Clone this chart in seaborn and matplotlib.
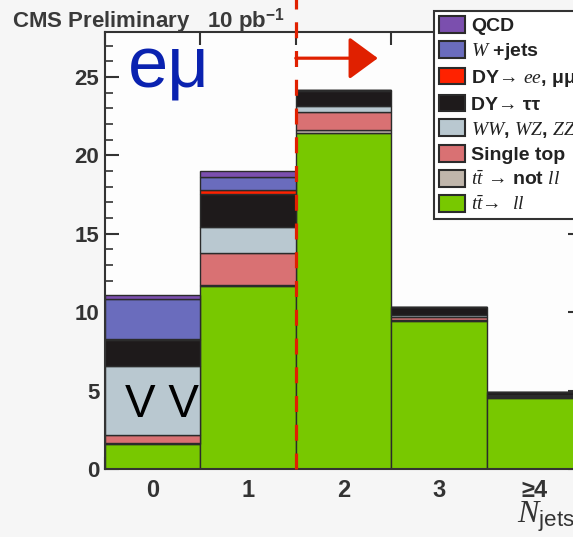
import numpy as np
import pandas as pd
import matplotlib
matplotlib.use("Agg")
import matplotlib.pyplot as plt
from matplotlib.patches import Patch
from matplotlib.ticker import MultipleLocator, FixedLocator
import seaborn as sns

# Jet-multiplicity bins and expected event yields per process (e-mu channel)
jet_bins = [0, 1, 2, 3, 4]
jet_labels = ["0", "1", "2", "3", "≥4"]

processes = ["QCD", "W+jets", "DY->ee,mumu", "DY->tautau", "VV",
             "Single top", "ttbar->not ll", "ttbar->ll"]
legend_labels = ["QCD", r"$W$ +jets", r"DY→ $ee$, μμ", r"DY→ ττ",
                 r"$WW$, $WZ$, $ZZ$", "Single top",
                 r"$t\bar{t}$ → not $ll$", r"$t\bar{t}$→  $ll$"]

qcd = [0.20, 0.35, 0.02, 0.01, 0.005]
wjets = [2.55, 0.85, 0.02, 0.02, 0.01]
dy_eemm = [0.12, 0.25, 0.02, 0.02, 0.01]
dy_tautau = [1.60, 2.10, 0.95, 0.50, 0.20]
diboson = [4.45, 1.70, 0.42, 0.10, 0.03]
single_top = [0.50, 2.00, 1.15, 0.20, 0.10]
tt_not_ll = [0.05, 0.05, 0.20, 0.05, 0.03]
tt_ll = [1.60, 11.70, 21.40, 9.45, 4.55]

yields = [qcd, wjets, dy_eemm, dy_tautau, diboson, single_top, tt_not_ll, tt_ll]

colors = ["#7b4fae", "#6a6cbd", "#ff2200", "#1e1a1b", "#b9c8d0",
          "#d97173", "#c0b6ab", "#78c800"]
palette = dict(zip(processes, colors))

df = pd.DataFrame({
    "jets": np.tile(jet_bins, len(processes)),
    "process": np.repeat(processes, len(jet_bins)),
    "events": np.concatenate(yields),
})

sns.set_style("ticks")
plt.rcParams["font.family"] = ["Liberation Sans", "DejaVu Sans"]
plt.rcParams["mathtext.fontset"] = "custom"
plt.rcParams["mathtext.rm"] = "Liberation Sans"
plt.rcParams["mathtext.it"] = "Liberation Serif:italic"
plt.rcParams["mathtext.bf"] = "Liberation Sans:bold"

ink = "#333333"
fig = plt.figure(figsize=(5.73, 5.37), dpi=100, facecolor="#f6f6f6")
ax = fig.add_axes([105 / 573, 1 - 469 / 537, 477 / 573, 437 / 537])
ax.set_facecolor("#fdfdfd")

sns.histplot(data=df, x="jets", weights="events", hue="process",
             hue_order=processes, palette=palette, multiple="stack",
             discrete=True, shrink=1.0, element="bars", alpha=1,
             edgecolor="#2b2b2b", linewidth=1.0, legend=False, ax=ax)

ax.set_xlim(-0.5, 4.5)
ax.set_ylim(0, 27.87)
ax.set_xlabel("")
ax.set_ylabel("")

for side in ["left", "right", "top", "bottom"]:
    ax.spines[side].set_visible(True)
    ax.spines[side].set_linewidth(1.5)
    ax.spines[side].set_color(ink)

# x: labels at bin centres, tick marks at bin edges
ax.xaxis.set_major_locator(FixedLocator(jet_bins))
ax.set_xticklabels(jet_labels)
ax.xaxis.set_minor_locator(FixedLocator(np.arange(-0.5, 5.0, 1.0)))
ax.tick_params(axis="x", which="major", length=0, pad=7,
               labelsize=17, labelcolor=ink)
ax.tick_params(axis="x", which="minor", direction="in", length=9,
               width=1.5, color=ink, top=True, bottom=True)

ax.yaxis.set_major_locator(MultipleLocator(5))
ax.yaxis.set_minor_locator(MultipleLocator(1))
ax.tick_params(axis="y", which="major", direction="in", length=10,
               width=1.5, color=ink, left=True, right=True, pad=4,
               labelsize=16, labelcolor=ink)
ax.tick_params(axis="y", which="minor", direction="in", length=6,
               width=1.2, color=ink, left=True, right=True)
for lab in ax.get_xticklabels() + ax.get_yticklabels():
    lab.set_fontweight("bold")

# signal-region boundary: N_jets >= 2
ax.plot([1.5, 1.5], [0, 30], color="#e02000", lw=2.3,
        linestyle=(0, (5, 4)), clip_on=False, zorder=5)
ax.annotate("", xy=(2.36, 26.2), xytext=(1.5, 26.2),
            arrowprops=dict(arrowstyle="-|>,head_length=0.9,head_width=0.66",
                            mutation_scale=20, color="#e02000", lw=2.3,
                            shrinkA=0, shrinkB=0),
            annotation_clip=False, zorder=6)

ax.text(-0.26, 24.3, "eμ", ha="left", va="baseline", fontsize=52,
        color="#0a22b0", zorder=6)
ax.text(-0.29, 3.3, "V V", ha="left", va="baseline", fontsize=33,
        color="black", zorder=6)

fig.text(12 / 573, 1 - 27 / 537, r"CMS Preliminary   10 pb$^{\mathbf{-1}}$",
         ha="left", va="baseline", fontsize=16, fontweight="bold", color="#3a3a3a")
fig.text(517 / 573, 1 - 523 / 537, r"$N_{\mathrm{jets}}$", ha="left",
         va="baseline", fontsize=23, color=ink)

handles = [Patch(facecolor=c, edgecolor="#2b2b2b", linewidth=1.5) for c in colors]
leg = fig.legend(handles, legend_labels, loc="upper left",
                 bbox_to_anchor=(434 / 573, 1 - 11 / 537), borderaxespad=0,
                 frameon=True, fancybox=False, framealpha=1, edgecolor=ink,
                 facecolor="white", prop={"size": 14, "weight": "bold"},
                 handlelength=1.35, handleheight=0.95, handletextpad=0.3,
                 labelspacing=0.3, borderpad=0.25)
leg.get_frame().set_linewidth(1.5)
for t in leg.get_texts():
    t.set_color("#222222")

fig.savefig("out.png", dpi=100, facecolor=fig.get_facecolor())
